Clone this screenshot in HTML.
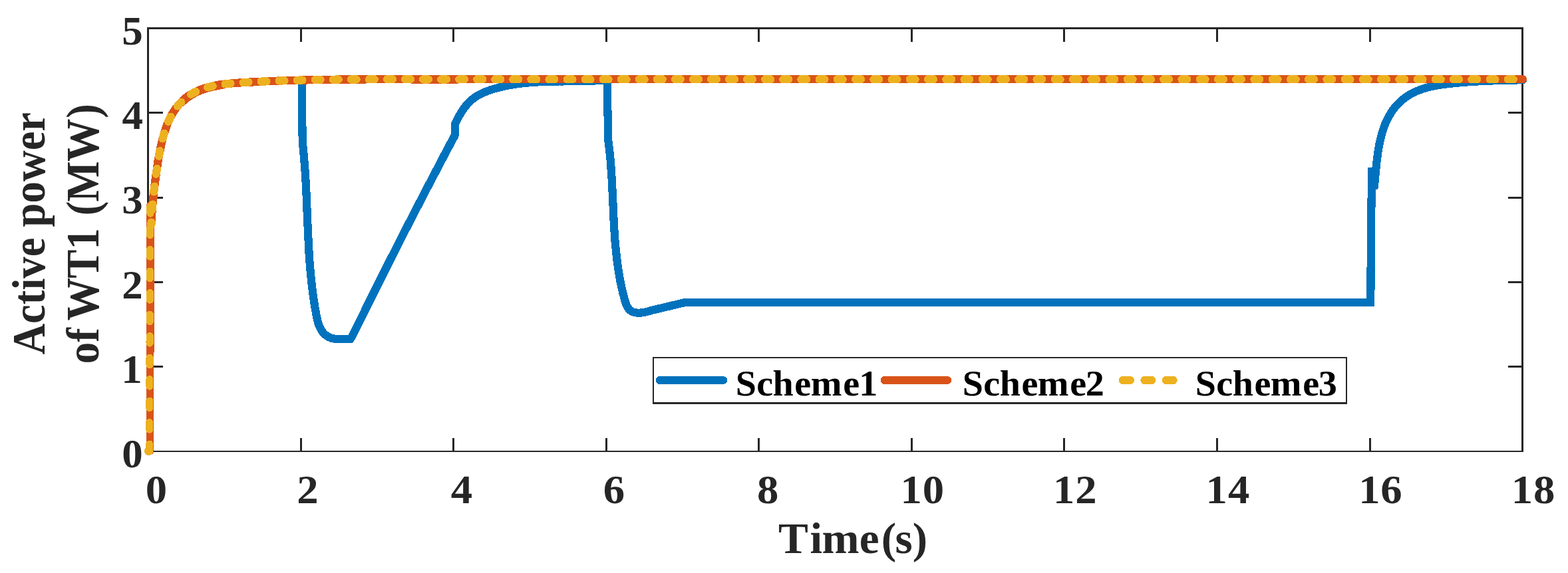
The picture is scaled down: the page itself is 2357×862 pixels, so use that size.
<!DOCTYPE html>
<html lang="en">
<head>
<meta charset="utf-8">
<title>Active power of WT1</title>
<style>
html,body{margin:0;padding:0;background:#fff;}
body{width:2357px;height:862px;overflow:hidden;}
svg{display:block;}
text{font-family:"Liberation Serif",serif;font-weight:bold;font-kerning:none;font-variant-ligatures:none;white-space:pre;}
.tk{fill:#262626;}
.lb{fill:#262626;}
.lg{fill:#000;}
</style>
</head>
<body>
<svg width="2357" height="862" viewBox="0 0 2357 862" shape-rendering="crispEdges">
<rect x="0" y="0" width="2357" height="862" fill="#ffffff"/>

<g stroke="#262626" fill="none" stroke-linecap="butt">
<path d="M222.6,678.8 V42.5 H2288.6 V678.8" stroke-width="2.9" stroke-linejoin="round"/>
<path d="M221.15,679.05 H2290.05" stroke-width="2.3"/>
<path d="M452.2,678.8 V659.0" stroke-width="3"/><path d="M452.2,42.5 V62.5" stroke-width="3"/>
<path d="M681.7,678.8 V659.0" stroke-width="3"/><path d="M681.7,42.5 V62.5" stroke-width="3"/>
<path d="M911.3,678.8 V659.0" stroke-width="3"/><path d="M911.3,42.5 V62.5" stroke-width="3"/>
<path d="M1140.8,678.8 V659.0" stroke-width="3"/><path d="M1140.8,42.5 V62.5" stroke-width="3"/>
<path d="M1370.4,678.8 V659.0" stroke-width="3"/><path d="M1370.4,42.5 V62.5" stroke-width="3"/>
<path d="M1599.9,678.8 V659.0" stroke-width="3"/><path d="M1599.9,42.5 V62.5" stroke-width="3"/>
<path d="M1829.5,678.8 V659.0" stroke-width="3"/><path d="M1829.5,42.5 V62.5" stroke-width="3"/>
<path d="M2059.0,678.8 V659.0" stroke-width="3"/><path d="M2059.0,42.5 V62.5" stroke-width="3"/>
<path d="M222.6,551.5 H244.6" stroke-width="3"/><path d="M2288.6,551.5 H2266.6" stroke-width="3"/>
<path d="M222.6,424.3 H244.6" stroke-width="3"/><path d="M2288.6,424.3 H2266.6" stroke-width="3"/>
<path d="M222.6,297.0 H244.6" stroke-width="3"/><path d="M2288.6,297.0 H2266.6" stroke-width="3"/>
<path d="M222.6,169.8 H244.6" stroke-width="3"/><path d="M2288.6,169.8 H2266.6" stroke-width="3"/>
</g>
<path d="M454.0,119.4 L454.1,165.0 L454.7,212.0 L455.8,224.0 L455.8,224.0 L456.2,227.9 L456.5,231.7 L456.9,235.6 L457.2,239.5 L457.5,243.3 L457.8,247.2 L458.1,251.0 L458.4,254.9 L458.7,258.7 L458.9,262.6 L459.2,266.4 L459.4,270.2 L459.6,274.1 L459.8,277.9 L460.0,281.8 L460.2,285.6 L460.4,289.4 L460.6,293.3 L460.7,297.1 L460.9,300.9 L461.1,304.7 L461.2,308.6 L461.4,312.4 L461.5,316.2 L461.7,320.1 L461.9,323.9 L462.0,327.7 L462.2,331.5 L462.3,335.4 L462.5,339.2 L462.7,343.0 L462.8,346.8 L463.0,350.7 L463.2,354.5 L463.4,358.3 L463.6,362.1 L463.8,366.0 L464.0,369.8 L464.2,373.6 L464.4,377.4 L464.6,381.3 L464.9,385.1 L465.2,388.9 L465.4,392.8 L465.7,396.6 L466.0,400.4 L466.3,404.3 L466.7,408.1 L467.0,412.0 L467.4,415.8 L467.8,419.7 L468.2,423.5 L468.6,427.4 L469.1,431.2 L469.5,435.1 L470.0,438.9 L470.5,442.8 L471.0,446.6 L471.6,450.5 L472.2,454.4 L472.8,458.2 L473.4,462.1 L474.1,466.0 L474.8,469.9 L475.5,473.8 L476.3,477.6 L477.1,481.4 L478.1,485.1 L479.3,488.7 L480.7,492.1 L482.3,495.3 L484.1,498.3 L486.3,501.1 L488.8,503.6 L491.7,505.7 L495.0,507.5 L498.6,508.8 L502.8,509.7 L507.3,510.1 L526.6,510.1 L529.8,505.0 L540.9,482.5 L552.1,459.9 L563.3,437.4 L574.6,414.8 L585.9,392.3 L597.3,369.8 L608.8,347.2 L620.4,324.7 L632.0,302.2 L643.7,279.6 L655.5,257.1 L667.3,234.5 L679.2,212.0 L681.0,208.5 L683.4,205.0 L684.0,196.0 L684.3,186.0 L685.4,183.7 L686.5,181.4 L687.6,179.1 L688.8,176.8 L690.1,174.5 L691.4,172.3 L692.7,170.0 L694.1,167.8 L695.5,165.7 L697.0,163.5 L698.6,161.4 L700.2,159.4 L701.8,157.4 L703.5,155.5 L705.3,153.7 L707.1,152.0 L709.0,150.3 L711.0,148.7 L713.0,147.2 L715.0,145.8 L717.1,144.4 L719.3,143.1 L721.5,141.9 L723.7,140.8 L726.0,139.7 L728.3,138.7 L730.6,137.7 L733.0,136.8 L735.4,136.0 L737.8,135.1 L740.2,134.4 L742.7,133.6 L745.1,132.9 L747.6,132.3 L750.0,131.6 L752.5,131.0 L755.0,130.4 L757.5,129.9 L760.0,129.3 L762.5,128.8 L765.0,128.3 L767.5,127.9 L770.0,127.5 L772.5,127.1 L775.0,126.7 L777.5,126.3 L780.1,126.0 L782.6,125.7 L785.1,125.4 L787.7,125.1 L790.2,124.8 L792.8,124.6 L795.3,124.4 L797.9,124.2 L800.4,124.0 L803.0,123.8 L805.5,123.6 L808.1,123.5 L810.7,123.3 L813.2,123.2 L815.8,123.1 L818.4,123.0 L820.9,122.9 L823.5,122.8 L826.1,122.7 L828.7,122.7 L831.2,122.6 L833.8,122.6 L836.4,122.5 L839.0,122.5 L841.5,122.4 L844.1,122.4 L846.7,122.4 L849.3,122.3 L851.8,122.3 L854.4,122.3 L857.0,122.3 L859.6,122.2 L862.1,122.2 L864.7,122.2 L867.3,122.1 L869.8,122.1 L872.4,122.1 L874.9,122.0 L877.5,122.0 L880.1,121.9 L882.6,121.8 L885.1,121.8 L887.7,121.7 L890.2,121.6 L892.8,121.5 L895.3,121.4 L897.8,121.2 L900.4,121.1 L902.9,120.9 L905.4,120.8 L907.9,120.6 L910.4,120.4 L912.9,120.2 L912.9,125.0 L913.4,164.9 L914.4,212.3 L915.4,219.8 L915.7,222.5 L916.0,225.1 L916.3,227.8 L916.6,230.4 L916.9,233.1 L917.1,235.7 L917.4,238.4 L917.6,241.0 L917.8,243.7 L918.0,246.3 L918.3,249.0 L918.5,251.6 L918.6,254.3 L918.8,257.0 L919.0,259.6 L919.2,262.3 L919.4,264.9 L919.5,267.6 L919.7,270.2 L919.8,272.9 L920.0,275.6 L920.1,278.2 L920.2,280.9 L920.4,283.5 L920.5,286.2 L920.6,288.9 L920.8,291.5 L920.9,294.2 L921.0,296.8 L921.1,299.5 L921.2,302.1 L921.4,304.8 L921.5,307.5 L921.6,310.1 L921.7,312.8 L921.8,315.4 L921.9,318.1 L922.1,320.7 L922.2,323.4 L922.3,326.1 L922.5,328.7 L922.6,331.4 L922.7,334.0 L922.9,336.7 L923.0,339.3 L923.2,342.0 L923.3,344.6 L923.5,347.3 L923.7,350.0 L923.9,352.6 L924.0,355.3 L924.2,357.9 L924.4,360.6 L924.6,363.2 L924.9,365.9 L925.1,368.5 L925.3,371.2 L925.6,373.8 L925.8,376.4 L926.1,379.1 L926.4,381.7 L926.7,384.4 L927.0,387.0 L927.3,389.7 L927.6,392.3 L927.9,394.9 L928.3,397.6 L928.7,400.2 L929.0,402.9 L929.4,405.5 L929.8,408.1 L930.3,410.8 L930.7,413.4 L931.2,416.0 L931.6,418.7 L932.1,421.3 L932.6,423.9 L933.2,426.6 L933.7,429.2 L934.3,431.8 L934.9,434.4 L935.5,437.1 L936.1,439.7 L936.7,442.3 L937.4,444.9 L938.1,447.5 L938.8,450.2 L939.5,452.7 L940.3,455.3 L941.2,457.7 L942.2,460.1 L943.4,462.2 L944.8,464.2 L946.3,466.0 L948.1,467.5 L950.1,468.8 L952.5,469.7 L955.1,470.3 L957.9,470.6 L960.9,470.7 L963.9,470.5 L966.9,470.0 L969.9,469.5 L972.7,468.8 L975.5,468.1 L978.1,467.3 L980.6,466.6 L982.9,466.0 L985.0,465.6 L1030.0,454.9 L2060.3,454.9 L2061.0,340.0 L2062.3,252.0 L2065.3,284.0 L2065.6,281.5 L2065.9,278.9 L2066.2,276.3 L2066.5,273.6 L2066.7,271.0 L2067.0,268.3 L2067.3,265.6 L2067.5,262.8 L2067.8,260.1 L2068.1,257.3 L2068.3,254.5 L2068.6,251.7 L2068.9,248.9 L2069.2,246.1 L2069.5,243.3 L2069.8,240.4 L2070.2,237.6 L2070.6,234.8 L2070.9,231.9 L2071.4,229.1 L2071.8,226.2 L2072.3,223.4 L2072.8,220.6 L2073.3,217.8 L2073.8,215.0 L2074.4,212.2 L2075.1,209.4 L2075.8,206.6 L2076.5,203.9 L2077.2,201.1 L2078.0,198.4 L2078.9,195.7 L2079.8,193.1 L2080.7,190.4 L2081.7,187.8 L2082.8,185.3 L2083.9,182.7 L2085.1,180.2 L2086.4,177.7 L2087.7,175.3 L2089.0,172.9 L2090.5,170.5 L2092.0,168.2 L2093.5,166.0 L2095.1,163.8 L2096.8,161.6 L2098.6,159.5 L2100.4,157.5 L2102.2,155.5 L2104.2,153.6 L2106.1,151.8 L2108.2,150.0 L2110.3,148.3 L2112.5,146.7 L2114.7,145.2 L2117.0,143.7 L2119.3,142.3 L2121.7,140.9 L2124.1,139.7 L2126.5,138.5 L2129.0,137.3 L2131.5,136.3 L2134.1,135.3 L2136.7,134.3 L2139.3,133.4 L2142.0,132.6 L2144.6,131.9 L2147.3,131.1 L2150.1,130.5 L2152.8,129.9 L2155.6,129.3 L2158.3,128.8 L2161.1,128.3 L2163.9,127.8 L2166.7,127.4 L2169.5,127.0 L2172.4,126.6 L2175.2,126.3 L2178.0,125.9 L2180.8,125.6 L2183.6,125.4 L2186.4,125.1 L2189.2,124.8 L2192.0,124.6 L2194.8,124.3 L2197.6,124.1 L2200.4,123.9 L2203.2,123.6 L2205.9,123.4 L2208.7,123.2 L2211.5,123.1 L2214.2,122.9 L2217.0,122.7 L2219.7,122.5 L2222.5,122.4 L2225.3,122.2 L2228.0,122.1 L2230.8,122.0 L2233.5,121.8 L2236.2,121.7 L2239.0,121.6 L2241.7,121.5 L2244.5,121.4 L2247.3,121.3 L2250.0,121.2 L2252.8,121.1 L2255.5,121.0 L2258.3,120.9 L2261.1,120.8 L2263.8,120.8 L2266.6,120.7 L2269.4,120.6 L2272.2,120.6 L2275.0,120.5 L2277.7,120.4 L2280.5,120.4 L2283.4,120.3 L2286.2,120.3 L2289.0,120.2" fill="none" stroke="#0072BD" stroke-width="12.2" stroke-linejoin="miter" stroke-miterlimit="3" stroke-linecap="butt"/>
<path d="M2270,120.35 L2289,120.2" fill="none" stroke="#0072BD" stroke-width="12.2" stroke-linecap="round"/>
<path d="M225.4,678.6 L226.2,309.0" fill="none" stroke="#D95319" stroke-width="11.6" stroke-linecap="round"/>
<path d="M226.2,309.0 L227.4,338.0 L227.6,333.8 L227.8,329.6 L228.0,325.4 L228.3,321.2 L228.6,317.0 L229.0,312.8 L229.3,308.6 L229.7,304.4 L230.1,300.2 L230.5,296.0 L231.0,291.8 L231.4,287.6 L231.9,283.4 L232.4,279.2 L233.0,275.1 L233.5,270.9 L234.0,266.7 L234.6,262.5 L235.2,258.4 L235.8,254.2 L236.4,250.1 L237.0,245.9 L237.7,241.7 L238.4,237.6 L239.1,233.5 L239.9,229.3 L240.7,225.2 L241.6,221.1 L242.5,217.0 L243.5,212.9 L244.5,208.8 L245.6,204.7 L246.8,200.6 L248.1,196.6 L249.4,192.5 L250.9,188.6 L252.4,184.6 L254.1,180.7 L255.9,176.9 L257.9,173.1 L260.0,169.5 L262.3,165.9 L264.7,162.5 L267.3,159.2 L270.0,156.0 L272.9,153.0 L275.9,150.1 L279.1,147.4 L282.5,144.9 L285.9,142.6 L289.5,140.5 L293.2,138.5 L297.0,136.8 L300.9,135.1 L304.9,133.7 L308.9,132.3 L312.9,131.2 L316.9,130.1 L321.0,129.2 L325.1,128.4 L329.3,127.6 L333.4,127.0 L337.6,126.5 L341.8,126.0 L346.0,125.6 L350.2,125.2 L354.5,124.9 L358.7,124.6 L362.9,124.3 L367.1,124.1 L371.4,123.8 L375.6,123.6 L379.8,123.4 L384.1,123.1 L388.3,122.9 L392.5,122.7 L396.7,122.5 L401.0,122.3 L405.2,122.1 L409.4,122.0 L413.6,121.8 L417.8,121.6 L422.0,121.5 L426.3,121.3 L430.5,121.2 L434.7,121.1 L438.9,120.9 L443.1,120.8 L447.3,120.7 L451.5,120.6 L455.8,120.5 L460.0,120.4 L464.2,120.3 L468.4,120.2 L472.6,120.1 L476.8,120.0 L481.0,120.0 L485.2,119.9 L489.4,119.8 L493.6,119.8 L497.8,119.7 L502.0,119.7 L506.2,119.6 L510.4,119.6 L514.7,119.6 L518.9,119.5 L523.1,119.5 L527.3,119.5 L531.5,119.4 L535.7,119.4 L539.9,119.4 L544.1,119.4 L548.3,119.4 L552.5,119.3 L556.7,119.3 L560.9,119.3 L565.1,119.3 L569.3,119.3 L573.5,119.3 L577.7,119.3 L581.9,119.3 L586.1,119.3 L590.3,119.3 L594.6,119.3 L598.8,119.3 L603.0,119.3 L607.2,119.3 L611.4,119.3 L615.6,119.3 L619.8,119.4 L624.0,119.4 L628.2,119.4 L632.5,119.4 L636.7,119.4 L640.9,119.4 L645.1,119.4 L649.3,119.4 L653.5,119.4 L657.8,119.4 L662.0,119.4 L666.2,119.4 L670.4,119.4 L674.6,119.4 L678.9,119.4 L683.1,119.4 L687.3,119.4 L691.5,119.3 L695.8,119.3 L700.0,119.3 L2289.0,119.3" fill="none" stroke="#D95319" stroke-width="12.3" stroke-linejoin="round" stroke-linecap="round"/>
<path d="M273.2,153.4 L276.3,150.6 L279.5,147.9 L282.8,145.4 L286.3,143.1 L289.9,141.0 L293.6,139.0 L297.4,137.2 L301.3,135.6 L305.2,134.1 L309.2,132.8 L313.2,131.6 L317.3,130.6 L321.4,129.6 L325.5,128.8 L329.6,128.1 L333.8,127.5" fill="none" stroke="#D95319" stroke-width="13.2" stroke-linejoin="round" stroke-linecap="round"/>
<path d="M224.5,678.6 L225.9,309.0" fill="none" stroke="#EDB120" stroke-width="11.2" stroke-linecap="round" stroke-dasharray="10.5 22"/>
<ellipse cx="223.5" cy="678.4" rx="6.6" ry="6.7" fill="#EDB120"/>
<path d="M2289.0,119.3 L1221.9,119.3" fill="none" stroke="#EDB120" stroke-width="12.3" stroke-linejoin="round" stroke-linecap="round" stroke-dasharray="7.8 19.444" stroke-dashoffset="12.944"/>
<path d="M1221.9,119.3 L700.0,119.3 L695.8,119.3 L691.5,119.3 L687.3,119.4 L683.1,119.4 L678.9,119.4 L674.6,119.4 L670.4,119.4 L666.2,119.4 L662.0,119.4 L657.8,119.4 L653.5,119.4 L649.3,119.4 L645.1,119.4 L640.9,119.4 L636.7,119.4 L632.5,119.4 L628.2,119.4 L624.0,119.4 L619.8,119.4 L615.6,119.3 L611.4,119.3 L607.2,119.3 L603.0,119.3 L598.8,119.3 L594.6,119.3 L590.3,119.3 L586.1,119.3 L581.9,119.3 L577.7,119.3 L573.5,119.3 L569.3,119.3 L565.1,119.3 L560.9,119.3 L556.7,119.3 L552.5,119.3 L548.3,119.4 L544.1,119.4 L539.9,119.4 L535.7,119.4 L531.5,119.4 L527.3,119.5 L523.1,119.5 L518.9,119.5 L514.7,119.6 L510.4,119.6 L506.2,119.6 L502.0,119.7 L497.8,119.7 L493.6,119.8 L489.4,119.8 L485.2,119.9 L481.0,120.0 L476.8,120.0 L472.6,120.1 L468.4,120.2 L464.2,120.3 L460.0,120.4 L455.8,120.5 L451.5,120.6 L447.3,120.7 L443.1,120.8 L438.9,120.9 L434.7,121.1 L430.5,121.2 L426.3,121.3 L422.0,121.5 L417.8,121.6 L413.6,121.8 L409.4,122.0 L405.2,122.1 L401.0,122.3 L396.7,122.5 L392.5,122.7 L388.3,122.9 L384.1,123.1 L379.8,123.4 L375.6,123.6 L371.4,123.8 L367.1,124.1 L362.9,124.3 L358.7,124.6 L354.5,124.9 L350.2,125.2 L346.0,125.6 L341.8,126.0 L337.6,126.5 L333.4,127.0 L329.3,127.6 L325.1,128.4 L321.0,129.2 L316.9,130.1 L312.9,131.2 L308.9,132.3 L304.9,133.7 L300.9,135.1 L297.0,136.8 L293.2,138.5 L289.5,140.5 L285.9,142.6 L282.5,144.9 L279.1,147.4 L275.9,150.1 L272.9,153.0 L270.0,156.0 L267.3,159.2 L264.7,162.5 L262.3,165.9 L260.0,169.5 L257.9,173.1 L255.9,176.9 L254.1,180.7 L252.4,184.6 L250.9,188.6 L249.4,192.5 L248.1,196.6 L246.8,200.6 L245.6,204.7 L244.5,208.8 L243.5,212.9 L242.5,217.0 L241.6,221.1 L240.7,225.2 L239.9,229.3 L239.1,233.5 L238.4,237.6 L237.7,241.7 L237.0,245.9 L236.4,250.1 L235.8,254.2 L235.2,258.4 L234.6,262.5 L234.0,266.7 L233.5,270.9 L233.0,275.1 L232.4,279.2 L231.9,283.4 L231.4,287.6 L231.0,291.8 L230.5,296.0 L230.1,300.2 L229.7,304.4 L229.3,308.6 L229.0,312.8 L228.6,317.0 L228.3,321.2 L228.0,325.4 L227.8,329.6 L227.6,333.8 L227.4,338.0" fill="none" stroke="#EDB120" stroke-width="12.3" stroke-linejoin="round" stroke-linecap="round" stroke-dasharray="7.8 19.260" stroke-dashoffset="17.360"/>
<text class="tk" transform="translate(183.25,703.2) scale(1.05,1.017)" x="0" y="0" font-size="60">0</text>
<text class="tk" transform="translate(182.36,575.94) scale(1.05,1.017)" x="0" y="0" font-size="60">1</text>
<text class="tk" transform="translate(183.28,448.68) scale(1.05,1.017)" x="0" y="0" font-size="60">2</text>
<text class="tk" transform="translate(183.14,321.42) scale(1.05,1.017)" x="0" y="0" font-size="60">3</text>
<text class="tk" transform="translate(183.4,194.16) scale(1.05,1.017)" x="0" y="0" font-size="60">4</text>
<text class="tk" transform="translate(183.14,66.9) scale(1.05,1.017)" x="0" y="0" font-size="60">5</text>
<text class="tk" transform="translate(218.7,756.8) scale(1.08,1.017)" x="0" y="0" font-size="60">0</text>
<text class="tk" transform="translate(446.23,756.8) scale(1.08,1.017)" x="0" y="0" font-size="60">2</text>
<text class="tk" transform="translate(677.81,756.8) scale(1.08,1.017)" x="0" y="0" font-size="60">4</text>
<text class="tk" transform="translate(906.74,756.8) scale(1.08,1.017)" x="0" y="0" font-size="60">6</text>
<text class="tk" transform="translate(1137.9,756.8) scale(1.08,1.017)" x="0" y="0" font-size="60">8</text>
<text class="tk" transform="translate(1353.46,756.8) scale(1.08,1.017)" x="0 30.76" y="0" font-size="60">10</text>
<text class="tk" transform="translate(1583.02,756.8) scale(1.08,1.017)" x="0 30.79" y="0" font-size="60">12</text>
<text class="tk" transform="translate(1812.57,756.8) scale(1.08,1.017)" x="0 30.9" y="0" font-size="60">14</text>
<text class="tk" transform="translate(2042.13,756.8) scale(1.08,1.017)" x="0 30.61" y="0" font-size="60">16</text>
<text class="tk" transform="translate(2271.68,756.8) scale(1.08,1.017)" x="0 30.76" y="0" font-size="60">18</text>
<text class="lb" transform="translate(1169.93,831.7) scale(1.02,0.99)" x="0 46.54 64.22 119.56 151.68 172.23 197.94" y="0" font-size="66">Time(s)</text>
<text class="lb" transform="translate(66.8,533.6) rotate(-90) scale(0.9803,1.07)" x="0 47.66 76.96 98.94 117.27 150.27 179.57 196.07 232.77 265.77 313.44 342.73" y="0" font-size="66">Active power</text>
<text class="lb" transform="translate(147.9,547.2) rotate(-90) scale(0.9803,1.07)" x="0 33 54.98 66.07 131.15 175.07 209.4 227.33 248.69 310.17 376.99" y="0" font-size="66">of WT1 (MW)</text>
<rect x="982" y="537.9" width="1042" height="68.6" fill="#fff" stroke="#262626" stroke-width="2.3"/>
<path d="M991.9,572 H1087.1" stroke="#0072BD" stroke-width="12" stroke-linecap="round" fill="none"/>
<path d="M1329.7,572 H1424.1" stroke="#D95319" stroke-width="12" stroke-linecap="round" fill="none"/>
<path d="M1687.9,572 H1765" stroke="#EDB120" stroke-width="12" stroke-linecap="round" stroke-dasharray="11 21.4" fill="none"/>
<text class="lg" transform="translate(1105.63,594.6) scale(1.04,1.02)" x="0 30.33 53.78 85.26 108.75 155.31 178.4" y="0" font-size="54">Scheme1</text>
<text class="lg" transform="translate(1446.73,594.6) scale(1.04,1.02)" x="0 30.33 53.78 85.26 108.75 155.31 177.89" y="0" font-size="54">Scheme2</text>
<text class="lg" transform="translate(1796.73,594.6) scale(1.04,1.02)" x="0 30.33 53.78 85.26 108.75 155.31 178.01" y="0" font-size="54">Scheme3</text>
</svg>
</body>
</html>
